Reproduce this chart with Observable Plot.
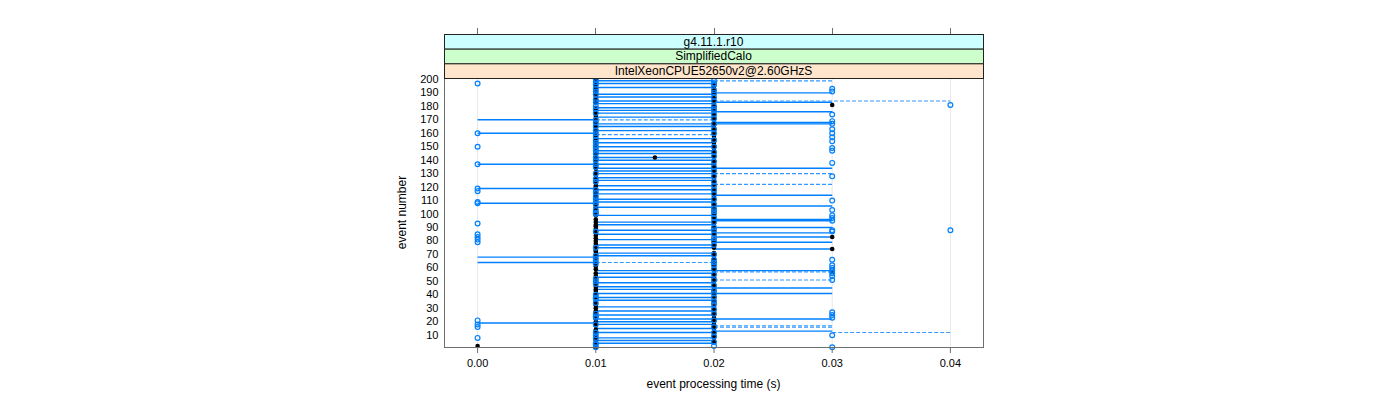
<!DOCTYPE html>
<html>
<head>
<meta charset="utf-8">
<script src="https://cdn.jsdelivr.net/npm/d3@7"></script>
<script src="https://cdn.jsdelivr.net/npm/@observablehq/plot@0.6"></script>
<style>
  body { margin: 0; background: #fff; }
  #chart { width: 1400px; height: 400px; }
</style>
</head>
<body>
<div id="chart"></div>
<script>
// ---- data ----
const stripLabels = ["g4.11.1.r10", "SimplifiedCalo", "IntelXeonCPUE52650v2@2.60GHzS"];
const stripColors = ["#ccffff", "#ccffcc", "#ffe5cc"];
const xTicks = [0, 0.01, 0.02, 0.03, 0.04];
const yTicks = [10,20,30,40,50,60,70,80,90,100,110,120,130,140,150,160,170,180,190,200];

// solid / dashed range segments: event numbers per (from,to) pair
const solid_000_001 = [19, 64, 68, 108, 119, 137, 160, 170];
const solid_001_002 = [199,197,194,189,187,184,182,179,177,175,172,167,165,162,156,153,150,147,145,142,140,137,134,132,130,127,125,121,118,115,111,109,105,
                       99,94,92,88,85,81,77,75,71,69,58,56,53,49,46,44,41,38,36,31,28,25,22,20,18,15,12,8,6,4];
const dashed_001_002 = [170, 159, 64];
const solid_002_003 = [190,183,176,168,167,134,114,106,96,95,90,86,83,79,74,58,45,41,22,13];
const dashed_002_003 = [199,130,122,57,51,17,16];
const dashed_002_004 = [184];
const dashed_003_004 = [12];

// black points (central value) by event
const black_000 = [2];
const black_001 = [1,3,4,6,7,9,11,13,14,17,19,20,22,24,27,28,30,32,33,35,37,38,41,43,44,46,48,49,51,54,56,59,61,63,66,68,70,72,73,76,78,80,82,84,86,89,91,92,94,96,99,101,103,105,107,110,112,114,116,118,120,121,123,125,127,129,131,134,136,139,141,144,146,148,150,152,155,157,159,161,163,165,167,169,171,173,175,177,179,183,185,187,188,190,192,194,196,198,199,200];
const black_0015 = [142];
const black_002 = [5,8,10,12,15,16,18,21,23,25,26,29,31,34,36,39,40,42,45,47,50,52,53,55,58,60,62,64,65,67,69,71,75,77,79,81,85,87,88,90,93,95,97,98,100,102,104,106,108,109,111,113,115,117,119,122,124,126,128,130,132,133,135,137,138,140,143,145,147,149,151,153,154,156,158,160,162,164,166,168,170,172,174,176,178,180,182,184,186,189,191,193,195,197];
const black_003 = [181, 83, 74, 57];

// blue open circles (individual measurements) by event
const blue_000 = [197,160,150,137,119,117,109,108,93,85,83,81,79,21,18,16,8];
const blue_001 = [200,198,196,193,191,189,185,183,180,178,175,170,168,165,162,160,158,155,153,151,149,147,145,142,140,137,135,130,126,124,118,116,113,111,109,107,103,101,100,87,75,69,67,65,63,52,50,48,40,38,37,34,26,24,23,18,12,10,8,4,3,1];
const blue_002 = [199,197,196,192,190,187,184,180,178,177,174,171,167,163,160,155,150,146,143,139,135,132,128,124,121,118,115,111,107,104,102,100,97,94,90,88,85,82,80,77,70,66,64,62,59,55,51,47,43,41,38,35,33,29,26,21,16,12,9,5,2];
const blue_003 = [193,191,174,169,167,163,160,157,154,149,147,138,128,110,103,99,97,95,88,87,66,62,60,58,56,54,51,27,25,23,10,1];
const blue_004 = [181, 88];

// ---- build tables ----
const segs = [];
function addSegs(events, x1, x2, dashed) { for (const e of events) segs.push({event: e, x1, x2, dashed}); }
addSegs(solid_000_001, 0.00, 0.01, false);
addSegs(solid_001_002, 0.01, 0.02, false);
addSegs(dashed_001_002, 0.01, 0.02, true);
addSegs(solid_002_003, 0.02, 0.03, false);
addSegs(dashed_002_003, 0.02, 0.03, true);
addSegs(dashed_002_004, 0.02, 0.04, true);
addSegs(dashed_003_004, 0.03, 0.04, true);

function pts(events, t) { return events.map(e => ({event: e, t})); }
const black = [...pts(black_000, 0), ...pts(black_001, 0.01), ...pts(black_0015, 0.015), ...pts(black_002, 0.02), ...pts(black_003, 0.03)];
const blue = [...pts(blue_000, 0), ...pts(blue_001, 0.01), ...pts(blue_002, 0.02), ...pts(blue_003, 0.03), ...pts(blue_004, 0.04)];

const font = "Liberation Sans, Arial, Helvetica, sans-serif";

const plot = Plot.plot({
  width: 1400,
  height: 400,
  marginLeft: 444,
  marginRight: 417,
  marginTop: 78,
  marginBottom: 53,
  style: {fontFamily: font, fontSize: "11px", background: "white", color: "black"},
  x: {domain: [-0.0028, 0.0428]},
  y: {domain: [0.85, 200.7]},
  marks: [
    Plot.ruleX(xTicks, {stroke: "#e8e8e8", strokeWidth: 1}),
    Plot.link(segs.filter(d => !d.dashed), {x1: "x1", x2: "x2", y1: "event", y2: "event", stroke: "#0080ff", strokeWidth: 1.4}),
    Plot.link(segs.filter(d => d.dashed), {x1: "x1", x2: "x2", y1: "event", y2: "event", stroke: "#3399ff", strokeWidth: 1.2, strokeDasharray: "4,2"}),
    Plot.dot(black, {x: "t", y: "event", r: 2.3, fill: "black", stroke: "none"}),
    Plot.dot(blue, {x: "t", y: "event", r: 2.4, fill: "none", stroke: "#0080ff", strokeWidth: 1.2}),
    Plot.frame({stroke: "#6e6e6e"}),
    Plot.axisX({ticks: xTicks, tickFormat: d3.format(".2f"), tickSize: 6, tickPadding: 6, label: null, fontSize: 11, stroke: "#6e6e6e"}),
    Plot.axisY({ticks: yTicks, tickSize: 0, tickPadding: 6, label: null, fontSize: 11})
  ]
});

document.getElementById("chart").appendChild(plot);

// ---- lattice-style strips, top ticks and axis titles ----
const svg = d3.select(plot);
const xs = plot.scale("x");
const [xl, xr] = [444, 983];
const stripTop = 34, stripH = (78 - 34) / 3;
const g = svg.append("g");
stripLabels.forEach((lab, i) => {
  g.append("rect").attr("x", xl + 0.5).attr("y", stripTop + i * stripH + 0.5)
    .attr("width", xr - xl).attr("height", stripH)
    .attr("fill", stripColors[i]).attr("stroke", "#222").attr("stroke-width", 1);
  g.append("text").attr("x", (xl + xr) / 2).attr("y", stripTop + i * stripH + stripH / 2 + 1)
    .attr("text-anchor", "middle").attr("dominant-baseline", "middle")
    .attr("font-family", font).attr("font-size", 12).text(lab);
});
xTicks.forEach(t => {
  const x = Math.round(xs.apply(t)) + 0.5;
  g.append("line").attr("x1", x).attr("x2", x).attr("y1", 28).attr("y2", stripTop)
    .attr("stroke", "#6e6e6e");
});
g.append("text").attr("x", (xl + xr) / 2).attr("y", 388).attr("text-anchor", "middle")
  .attr("font-family", font).attr("font-size", 12).text("event processing time (s)");
g.append("text").attr("transform", `translate(406,${(78 + 347) / 2}) rotate(-90)`)
  .attr("text-anchor", "middle").attr("font-family", font).attr("font-size", 12).text("event number");
</script>
</body>
</html>
